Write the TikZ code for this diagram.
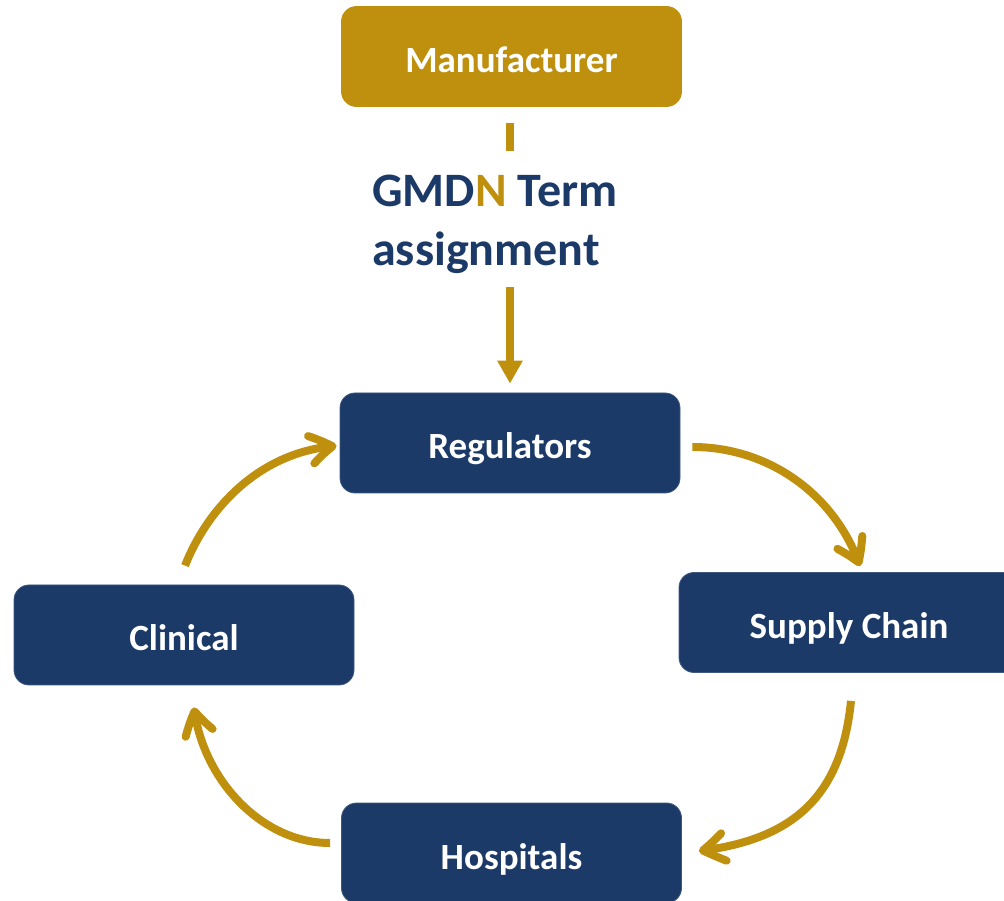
\documentclass[tikz,border=0pt]{standalone}
\usepackage{fontspec}
\setmainfont{Carlito}
\usetikzlibrary{arrows.meta,bending,calc}
\definecolor{navy}{RGB}{28,58,104}
\definecolor{gold}{RGB}{191,144,14}
\begin{document}
\begin{tikzpicture}[x=1pt,y=1pt,
  box/.style={rectangle, rounded corners=15pt, minimum width=340pt, minimum height=100pt,
    fill=navy, draw=navy!85!white, line width=0.8pt, text=white,
    font=\fontsize{37}{44}\selectfont\bfseries, inner sep=0pt, text height=32pt, text depth=0pt},
  goldbox/.style={box, fill=gold, draw=gold},
  conn/.style={draw=gold, line width=8pt},
  curv/.style={conn, -{Straight Barb[length=22pt,width=28pt,round,bend]}},
  label/.style={font=\fontsize{48}{59}\selectfont\bfseries, text=navy, align=left, inner sep=0pt}
]
\useasboundingbox (0,0) rectangle (1004,900);
\node[goldbox] (manu) at (511.5,843.5) {Manufacturer};
\node[box] (reg) at (510,457) {Regulators};
\node[box] (sup) at (849,277.5) {Supply Chain};
\node[box] (clin) at (184,265) {Clinical};
\node[box] (hosp) at (511.5,47) {Hospitals};
\node[label, anchor=north west] (gmdn) at (372,725) {GMD{\color{gold}N} Term\\assignment};
% vertical connector Manufacturer -> Regulators
\draw[conn] ($(manu.south)+(-1.5,-16)$) -- ($(manu.south)+(-1.5,-44)$);
\draw[conn, -{Triangle[length=23pt,width=24pt]}] ($(reg.north)+(0,106)$) -- ($(reg.north)+(0,9)$);
% cycle
\draw[curv] ($(clin.north)+(1,19)$) .. controls +(26,65) and +(-70,-4.5) .. ($(reg.west)+(-3,-3)$);
\draw[curv] ($(reg.east)+(12,-4)$) .. controls +(76,0) and +(-25,72) .. ($(sup.north)+(11,6)$);
\draw[curv] ($(sup.south)+(2,-28)$) .. controls +(-9.5,-95) and +(95,11.4) .. ($(hosp.east)+(17,2)$);
\draw[curv] ($(hosp.west)+(-11,10)$) .. controls +(-70,0) and +(8,-70) .. ($(clin.south)+(10,-22)$);
\end{tikzpicture}
\end{document}
